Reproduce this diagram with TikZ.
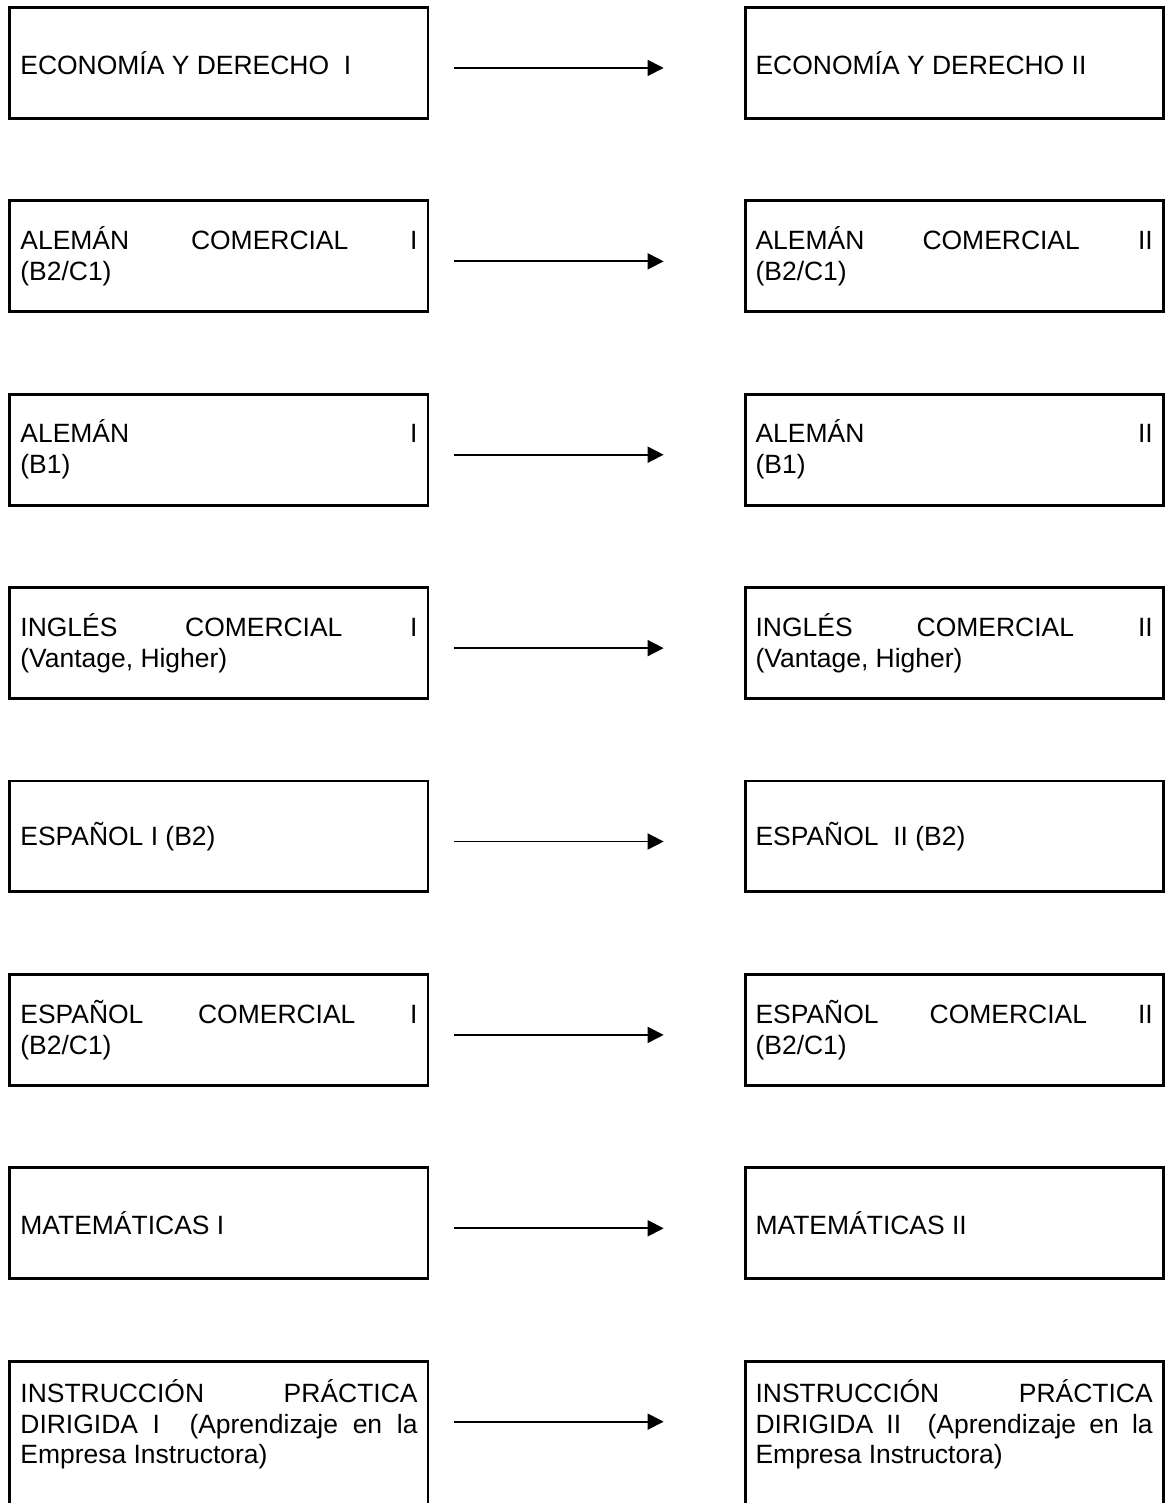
\documentclass[tikz,border=0pt]{standalone}
\usepackage{fontspec}
\setmainfont{Liberation Sans}
\usepackage{tikz}
\usetikzlibrary{positioning}
\usetikzlibrary{calc}
\usetikzlibrary{arrows.meta}
\tolerance=10000
\hbadness=10000
\tikzstyle{course} = [
	draw=black,
	line width=1.3pt,
	minimum width=189.6pt,
	minimum height=50.3pt,
	text width=180.1pt,
	inner xsep=4.75pt,
	align=justify,
	font=\fontsize{12pt}{14pt}\selectfont,
]
\tikzstyle{opencourse} = [
	course,
	text height=8.6pt,
	text depth=90pt,
	inner ysep=10pt,
]
\tikzstyle{pass} = [
	line width=0.8pt,
	-{Triangle[length=7.3pt,width=7.3pt]},
]

\begin{document}
\begin{tikzpicture}[node distance=36.1pt and 142.5pt]
	\useasboundingbox (0,0) rectangle (528.8pt,-681.6pt);

	%
	% First semester
	\node[course, anchor=north west] at (3.85pt,-2.72pt) (eco_I) {ECONOMÍA Y DERECHO\ \ I};
	\node[course, below=of eco_I] (alemcom_I) {ALEMÁN COMERCIAL I\linebreak (B2/C1)};
	\node[course, below=of alemcom_I] (alem_I) {ALEMÁN I\linebreak (B1)};
	\node[course, below=of alem_I] (ingcom_I) {INGLÉS COMERCIAL I\linebreak (Vantage, Higher)};
	\node[course, below=of ingcom_I] (esp_I) {ESPAÑOL I (B2)};
	\node[course, below=of esp_I] (espcom_I) {ESPAÑOL COMERCIAL I\linebreak (B2/C1)};
	\node[course, below=of espcom_I] (mat_I) {MATEMÁTICAS I};
	\node[opencourse, below=of mat_I] (ins_I) {INSTRUCCIÓN PRÁCTICA\linebreak DIRIGIDA I\ \ (Aprendizaje en la\linebreak Empresa Instructora)};

	%
	% Second semester
	\node[course, right=of eco_I] (eco_II) {ECONOMÍA Y DERECHO II};
	\node[course, right=of alemcom_I] (alemcom_II) {ALEMÁN COMERCIAL II\linebreak (B2/C1)};
	\node[course, right=of alem_I] (alem_II) {ALEMÁN II\linebreak (B1)};
	\node[course, right=of ingcom_I] (ingcom_II) {INGLÉS COMERCIAL II\linebreak (Vantage, Higher)};
	\node[course, right=of esp_I] (esp_II) {ESPAÑOL\ \ II (B2)};
	\node[course, right=of espcom_I] (espcom_II) {ESPAÑOL COMERCIAL II\linebreak (B2/C1)};
	\node[course, right=of mat_I] (mat_II) {MATEMÁTICAS II};
	\node[opencourse, right=of ins_I] (ins_II) {INSTRUCCIÓN PRÁCTICA\linebreak DIRIGIDA II\ \ (Aprendizaje en la\linebreak Empresa Instructora)};

	%
	% Arrows
	\draw[pass] ([xshift=11.3pt, yshift=-28.1pt]eco_I.north east) -- ([xshift=-36.3pt, yshift=-28.1pt]eco_II.north west);
	\draw[pass] ([xshift=11.3pt, yshift=-28.1pt]alemcom_I.north east) -- ([xshift=-36.3pt, yshift=-28.1pt]alemcom_II.north west);
	\draw[pass] ([xshift=11.3pt, yshift=-28.1pt]alem_I.north east) -- ([xshift=-36.3pt, yshift=-28.1pt]alem_II.north west);
	\draw[pass] ([xshift=11.3pt, yshift=-28.1pt]ingcom_I.north east) -- ([xshift=-36.3pt, yshift=-28.1pt]ingcom_II.north west);
	\draw[pass] ([xshift=11.3pt, yshift=-28.1pt]esp_I.north east) -- ([xshift=-36.3pt, yshift=-28.1pt]esp_II.north west);
	\draw[pass] ([xshift=11.3pt, yshift=-28.1pt]espcom_I.north east) -- ([xshift=-36.3pt, yshift=-28.1pt]espcom_II.north west);
	\draw[pass] ([xshift=11.3pt, yshift=-28.1pt]mat_I.north east) -- ([xshift=-36.3pt, yshift=-28.1pt]mat_II.north west);
	\draw[pass] ([xshift=11.3pt, yshift=-28.1pt]ins_I.north east) -- ([xshift=-36.3pt, yshift=-28.1pt]ins_II.north west);

\end{tikzpicture}
\end{document}
